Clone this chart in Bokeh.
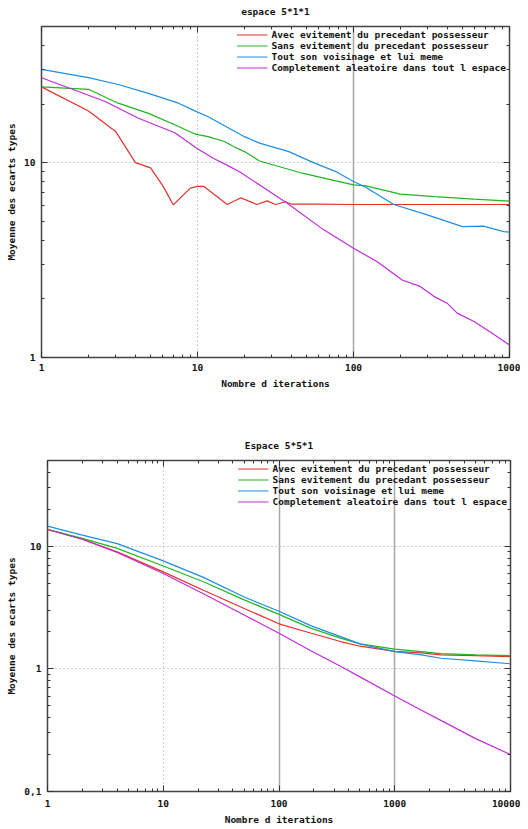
from bokeh.plotting import figure
from bokeh.layouts import column, row
from bokeh.models import LogAxis, FixedTicker, Grid, Legend, LegendItem, Range1d
from bokeh.embed import file_html
from bokeh.resources import INLINE

# ---------------- data: chart 1 (espace 5*1*1) ----------------
labels = ["Avec evitement du precedant possesseur",
          "Sans evitement du precedant possesseur",
          "Tout son voisinage et lui meme",
          "Completement aleatoire dans tout l espace"]
colors = ["#e4322b", "#22b422", "#1e8ee4", "#c02cd8"]

t1_red_x = [1, 2, 3, 4, 5, 6, 7, 8, 9, 10, 11, 13, 15.5, 19, 24, 28, 31.6, 36.6, 40, 60, 100, 200, 500, 1000]
t1_red_y = [24.5, 18.4, 14.4, 10.0, 9.4, 7.6, 6.07, 6.75, 7.4, 7.55, 7.55, 6.8, 6.1, 6.6, 6.1, 6.37, 6.1, 6.3, 6.12, 6.12, 6.1, 6.1, 6.1, 6.1]
t1_green_x = [1, 2, 3.1, 4.85, 7.2, 9.7, 11.7, 15, 17, 20, 25, 47, 77, 100, 120, 200, 330, 590, 1000]
t1_green_y = [24.5, 23.8, 20.2, 17.9, 15.6, 14.0, 13.6, 12.8, 12.1, 11.4, 10.2, 8.83, 8.06, 7.7, 7.6, 6.9, 6.7, 6.5, 6.35]
t1_blue_x = [1, 2, 3.1, 4.85, 7.55, 9.7, 11.7, 20, 25, 38.5, 54, 77, 100, 119, 181, 297, 500, 680, 920, 1000]
t1_blue_y = [30.1, 27.3, 25.2, 22.7, 20.2, 18.4, 17.2, 13.6, 12.6, 11.4, 10.1, 9.0, 8.0, 7.5, 6.1, 5.4, 4.7, 4.72, 4.43, 4.4]
t1_purple_x = [1, 2, 2.56, 4.19, 7.2, 10, 12.7, 15.9, 18.9, 28, 37.6, 64.5, 100, 142, 205, 269, 327, 398, 462, 600, 800, 1000]
t1_purple_y = [27.3, 22.2, 20.6, 16.9, 14.2, 11.8, 10.5, 9.6, 8.9, 7.24, 6.19, 4.52, 3.64, 3.1, 2.5, 2.31, 2.06, 1.9, 1.69, 1.52, 1.31, 1.16]

# ---------------- data: chart 2 (Espace 5*5*1) ----------------
t2_x = [1, 2, 4, 10, 22, 50, 100, 190, 340, 500, 1000, 1700, 2500, 5000, 10000]
t2_red_y = [13.7, 11.4, 9.0, 6.18, 4.39, 3.11, 2.33, 1.95, 1.67, 1.53, 1.39, 1.35, 1.3, 1.28, 1.26]
t2_green_y = [13.7, 11.6, 9.6, 6.9, 5.15, 3.65, 2.78, 2.14, 1.78, 1.6, 1.45, 1.38, 1.33, 1.3, 1.28]
t2_blue_y = [14.6, 12.3, 10.5, 7.6, 5.6, 3.85, 2.95, 2.24, 1.83, 1.6, 1.38, 1.3, 1.22, 1.16, 1.1]
t2_purple_y = [13.7, 11.4, 8.9, 6.0, 4.12, 2.75, 1.95, 1.4, 1.05, 0.86, 0.6, 0.46, 0.38, 0.27, 0.2]

# ticks
t1_xticks = [1, 10, 100, 1000]
t1_xtick_labels = ["1", "10", "100", "1000"]
t1_yticks = [1, 10]
t1_ytick_labels = ["1", "10"]
t2_xticks = [1, 10, 100, 1000, 10000]
t2_xtick_labels = ["1", "10", "100", "1000", "10000"]
t2_yticks = [0.1, 1, 10]
t2_ytick_labels = ["0,1", "1", "10"]

FONT = "DejaVu Sans Mono"
FS = "9.5px"


def minors(majors, upper):
    out = []
    for d in majors:
        for m in range(2, 10):
            v = m * d
            if v < upper:
                out.append(v)
    return out


def style_axis(ax, ticks, labs, upper, show_labels=True):
    ax.ticker = FixedTicker(ticks=ticks, minor_ticks=minors(ticks, upper))
    ax.major_tick_in = 6
    ax.major_tick_out = 0
    ax.minor_tick_in = 3
    ax.minor_tick_out = 0
    ax.major_tick_line_color = "#333333"
    ax.minor_tick_line_color = "#333333"
    ax.axis_line_color = None
    ax.axis_label_text_font = FONT
    ax.axis_label_text_font_style = "bold"
    ax.axis_label_text_font_size = FS
    ax.axis_label_text_color = "#111111"
    if show_labels:
        ax.major_label_overrides = {t: l for t, l in zip(ticks, labs)}
        ax.major_label_text_font = FONT
        ax.major_label_text_font_style = "bold"
        ax.major_label_text_font_size = FS
        ax.major_label_text_color = "#111111"
        ax.major_label_standoff = 6
        ax.axis_label_standoff = 4
    else:
        ax.major_label_overrides = {t: "" for t in ticks}
        ax.major_label_text_font_size = "0px"
        ax.major_label_standoff = 0
        ax.axis_label_standoff = 10


def make_fig(title, xr, yr, xticks, xlabs, yticks, ylabs, dotted_x, dotted_y, solid_x,
             fw, fh, bl, br, bt, bb, xstand, series):
    p = figure(x_axis_type="log", y_axis_type="log",
               x_range=Range1d(*xr), y_range=Range1d(*yr),
               frame_width=fw, frame_height=fh,
               min_border_left=bl, min_border_right=br, min_border_top=bt, min_border_bottom=bb,
               output_backend="svg", toolbar_location=None)
    p.outline_line_color = "#444444"
    p.outline_line_width = 1.5
    p.background_fill_color = "white"
    p.border_fill_color = "white"

    style_axis(p.xaxis[0], xticks, xlabs, xr[1])
    style_axis(p.yaxis[0], yticks, ylabs, yr[1])
    p.xaxis[0].major_label_standoff = xstand
    p.xaxis[0].axis_label = "Nombre d iterations"
    p.yaxis[0].axis_label = "Moyenne des ecarts types"

    top = LogAxis()
    style_axis(top, xticks, xlabs, xr[1], show_labels=False)
    top.axis_label = title
    p.add_layout(top, "above")
    right = LogAxis()
    style_axis(right, yticks, ylabs, yr[1], show_labels=False)
    p.add_layout(right, "right")

    p.xgrid.ticker = FixedTicker(ticks=dotted_x)
    p.ygrid.ticker = FixedTicker(ticks=dotted_y)
    for g in (p.xgrid[0], p.ygrid[0]):
        g.grid_line_color = "#9a9a9a"
        g.grid_line_dash = "1 3"
        g.grid_line_width = 1
    p.add_layout(Grid(dimension=0, ticker=FixedTicker(ticks=solid_x),
                      grid_line_color="#a8a8a8", grid_line_width=1.5))

    items = []
    for (xs, ys), lab, col in zip(series, labels, colors):
        r = p.line(xs, ys, line_color=col, line_width=1.2)
        items.append(LegendItem(label=lab, renderers=[r]))
    leg = Legend(items=items, location="top_right",
                 background_fill_alpha=0, border_line_alpha=0,
                 label_text_font=FONT, label_text_font_style="bold",
                 label_text_font_size=FS, label_text_color="#111111",
                 glyph_width=31, glyph_height=11, label_height=11,
                 spacing=0, padding=0, margin=3, label_standoff=4)
    p.add_layout(leg)
    return p


p1 = make_fig("espace 5*1*1", (1, 1000), (1, 50),
              t1_xticks, t1_xtick_labels, t1_yticks, t1_ytick_labels,
              [10], [10], [100],
              468, 331, 41, 11, 26, 46, 6,
              [(t1_red_x, t1_red_y), (t1_green_x, t1_green_y),
               (t1_blue_x, t1_blue_y), (t1_purple_x, t1_purple_y)])

p2 = make_fig("Espace 5*5*1", (1, 10000), (0.1, 50),
              t2_xticks, t2_xtick_labels, t2_yticks, t2_ytick_labels,
              [10], [1, 10], [100, 1000],
              463, 331, 47, 10, 57, 34, 8,
              [(t2_x, t2_red_y), (t2_x, t2_green_y),
               (t2_x, t2_blue_y), (t2_x, t2_purple_y)])

layout = column(row(p1), row(p2), spacing=0)
open("out.html", "w").write(file_html(layout, INLINE))
